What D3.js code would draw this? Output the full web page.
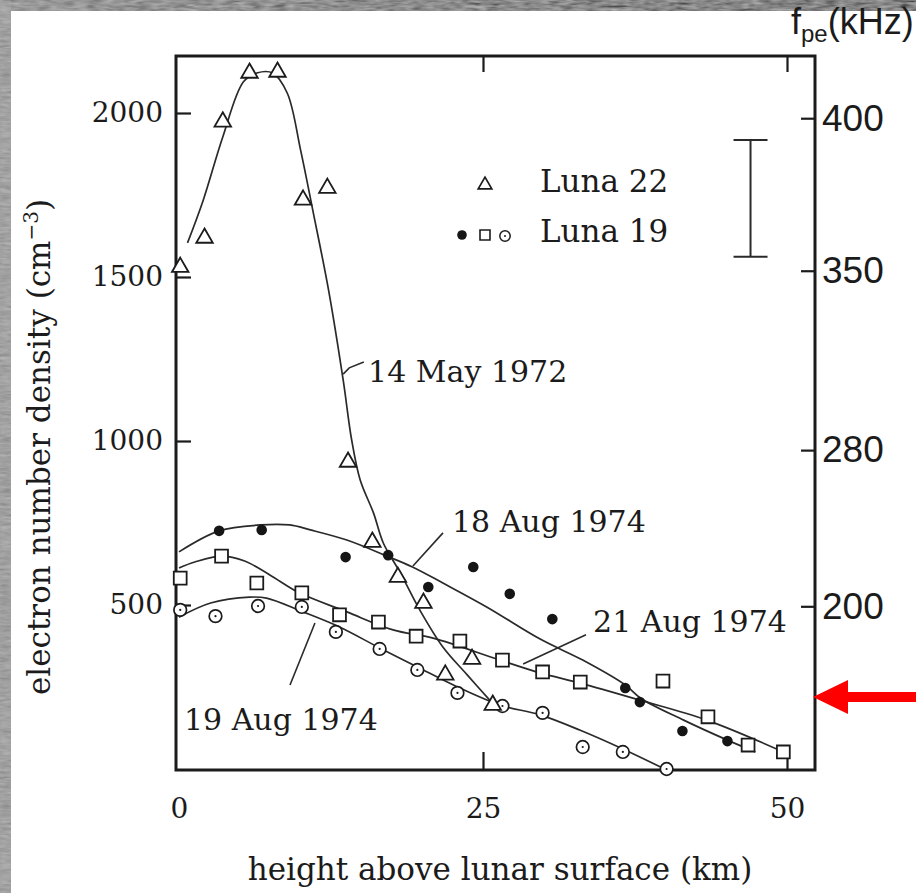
<!DOCTYPE html>
<html>
<head>
<meta charset="utf-8">
<script src="https://cdn.jsdelivr.net/npm/d3@7"></script>
<style>
  body { margin: 0; background: #fff; }
  svg { display: block; }
</style>
</head>
<body>
<svg id="chart" width="916" height="893"></svg>
<script>
// Electron number density above the lunar surface, Luna 22 and Luna 19 radio occultations.
// Each point is [height above surface (km), density (cm^-3)].

// Luna 22 – 14 May 1972 (triangles) and its fitted profile
const may14Points = [[0.1,1530],[2.1,1619],[3.6,1973],[5.8,2122],[8.1,2125],[10.2,1735],[12.2,1771],
  [13.9,936],[15.9,692],[18.0,585],[20.1,506],[21.9,287],[24.1,335],[25.8,195]];
const may14Fit = [[0.7,1604],[2.0,1735],[3.6,1927],[5.3,2095],[6.4,2122],[7.7,2122],[8.9,2061],
  [10.0,1887],[11.0,1704],[12.3,1460],[13.5,1186],[14.2,1003],[14.9,881],[16.0,780],[16.8,689],
  [18.2,598],[19.8,485],[21.7,372],[23.7,287],[25.7,204]];

// Luna 19 – 18 Aug 1974 (filled dots)
const aug18Points = [[3.3,726],[6.8,729],[13.7,646],[17.2,652],[20.5,555],[24.2,616],[27.2,534],
  [30.7,457],[36.7,247],[37.9,204],[41.4,116],[45.1,85]];
const aug18Fit = [[0,662],[3.3,726],[6.7,744],[9.1,744],[10.8,729],[13.8,698],[17.1,649],[19.2,616],
  [21.7,567],[25.3,494],[29.7,396],[33.2,332],[36.7,256],[38.0,215],[41.5,149],[45.1,88],[47.4,52]];

// Luna 19 – 21 Aug 1974 (open squares)
const aug21Points = [[0.1,582],[3.5,649],[6.4,567],[10.1,537],[13.2,470],[16.4,448],[19.5,405],
  [23.1,390],[26.6,332],[29.9,296],[33.0,265],[39.8,268],[43.5,159],[46.8,73],[49.7,52]];
const aug21Fit = [[0,613],[1.3,631],[3.5,649],[5.4,634],[7.5,591],[9.9,537],[13.8,479],[17.6,424],
  [20.9,399],[26.4,332],[29.7,293],[33.0,262],[37.9,210],[43.4,149],[49.7,52]];

// Luna 19 – 19 Aug 1974 (dotted circles)
const aug19Points = [[0.1,485],[3.0,466],[6.5,497],[10.1,494],[12.9,418],[16.5,366],[19.6,302],
  [22.9,232],[26.6,192],[29.9,171],[33.2,67],[36.5,52],[40.1,0]];
const aug19Fit = [[0,463],[2.6,506],[5.8,524],[7.2,521],[10.2,479],[13.2,433],[16.5,369],[19.6,311],
  [22.9,250],[26.4,195],[29.7,165],[33.0,118],[36.5,61],[39.6,6]];

// Representative measurement uncertainty
const errorBar = { x: 47, n: 1740, half: 178 };

// Axis ticks
const xTicks = [0, 25, 50];
const yTicks = [500, 1000, 1500, 2000];
const fpeTicks = [200, 280, 350, 400];   // plasma frequency, kHz
const fpeMarkKHz = 133;                  // highlighted plasma frequency
const fpeConst = 8.98;                   // f_pe[kHz] = 8.98 * sqrt(n[cm^-3])

// Date annotations: leader polyline and text anchor in data units
const dateLabels = [
  { text: "14 May 1972", leader: [[13.5,1204],[14.0,1223],[15.2,1241]], at: [15.55,1180] },
  { text: "18 Aug 1974", leader: [[19.24,619],[21.71,720]],            at: [22.45,723] },
  { text: "21 Aug 1974", leader: [[28.3,320],[33.47,409]],              at: [34.05,418] },
  { text: "19 Aug 1974", leader: [[11.18,445],[9.13,256]],              at: [0.41,119] }
];

const legendRows = ["Luna 22", "Luna 19"];

// ---------------------------------------------------------------------------
const svg = d3.select("#chart");
const W = 916, H = 893;
const frame = { left: 176, right: 815, top: 56, bottom: 770 };
const serif = "'DejaVu Serif', serif";
const sans = "'Liberation Sans', Arial, sans-serif";
const ink = "#1b1b1b";

const x = d3.scaleLinear().domain([0, 50]).range([179, 787]);
const y = d3.scaleLinear().domain([0, 2000]).range([769, 113]);
const fMax = 400;
const yF = d3.scalePow().exponent(2).domain([0, fMax])
  .range([y(0), y(Math.pow(fMax / fpeConst, 2))]);

// scanned page edges
const defs = svg.append("defs");
const grain = defs.append("filter").attr("id", "grain").attr("x", 0).attr("y", 0)
  .attr("width", "100%").attr("height", "100%");
grain.append("feTurbulence").attr("type", "fractalNoise").attr("baseFrequency", "0.08 0.35")
  .attr("numOctaves", 2).attr("seed", 3).attr("result", "noise");
grain.append("feColorMatrix").attr("in", "noise").attr("type", "matrix")
  .attr("values", "0 0 0 0 0.5  0 0 0 0 0.5  0 0 0 0 0.5  0.6 0.6 0.6 0 -0.5").attr("result", "tone");
grain.append("feComposite").attr("in", "tone").attr("in2", "SourceGraphic").attr("operator", "in").attr("result", "t2");
grain.append("feMerge").selectAll("feMergeNode").data(["SourceGraphic", "t2"]).join("feMergeNode").attr("in", d => d);

const topGrad = defs.append("linearGradient").attr("id", "topband").attr("x1", 0).attr("x2", 1);
topGrad.append("stop").attr("offset", 0).attr("stop-color", "#7a7a7a");
topGrad.append("stop").attr("offset", 0.5).attr("stop-color", "#5a5a5a");
topGrad.append("stop").attr("offset", 1).attr("stop-color", "#3c3c3c");

svg.append("rect").attr("width", W).attr("height", H).attr("fill", "#fff");
svg.append("rect").attr("x", 0).attr("y", 0).attr("width", W).attr("height", 11)
  .attr("fill", "url(#topband)").attr("filter", "url(#grain)");
svg.append("rect").attr("x", 0).attr("y", 0).attr("width", 11).attr("height", H)
  .attr("fill", "#8c8c8c").attr("filter", "url(#grain)");

// plot frame
svg.append("rect")
  .attr("x", frame.left).attr("y", frame.top)
  .attr("width", frame.right - frame.left).attr("height", frame.bottom - frame.top)
  .attr("fill", "none").attr("stroke", ink).attr("stroke-width", 3);

// axes
function styleAxis(g, fontFamily, fontSize) {
  g.select(".domain").remove();
  g.selectAll(".tick line").attr("stroke", ink).attr("stroke-width", 2.2);
  g.selectAll(".tick text").attr("fill", ink).style("font-family", fontFamily).style("font-size", fontSize + "px");
}

svg.append("g").attr("transform", `translate(${frame.left},0)`)
  .call(d3.axisLeft(y).tickValues(yTicks).tickSize(-15).tickPadding(13).tickFormat(d3.format("d")))
  .call(g => styleAxis(g, serif, 28));

svg.append("g").attr("transform", `translate(0,${frame.bottom})`)
  .call(d3.axisBottom(x).tickValues(xTicks).tickSize(-18).tickPadding(28).tickFormat(d3.format("d")))
  .call(g => styleAxis(g, serif, 28))
  .call(g => g.selectAll(".tick line").filter(d => d === 0).remove());

svg.append("g").attr("transform", `translate(0,${frame.top})`)
  .call(d3.axisTop(x).tickValues(xTicks.filter(d => d > 0)).tickSize(-16).tickFormat(""))
  .call(g => styleAxis(g, serif, 28));

svg.append("g").attr("transform", `translate(${frame.right},0)`)
  .call(d3.axisRight(yF).tickValues(fpeTicks).tickSize(-14).tickPadding(7).tickFormat(d3.format("d")))
  .call(g => styleAxis(g, sans, 37));

// axis titles
svg.append("text")
  .attr("x", 500).attr("y", 880).attr("text-anchor", "middle")
  .style("font-family", serif).style("font-size", "31px").attr("fill", ink)
  .text("height above lunar surface (km)");

const yTitle = svg.append("text")
  .attr("transform", "translate(50,447) rotate(-90)").attr("text-anchor", "middle")
  .style("font-family", serif).style("font-size", "31px").attr("fill", ink);
yTitle.append("tspan").text("electron number density (cm");
yTitle.append("tspan").attr("dy", -12).style("font-size", "20px").text("\u22123");
yTitle.append("tspan").attr("dy", 12).text(")");

const fTitle = svg.append("text").attr("x", 791).attr("y", 34)
  .style("font-family", sans).style("font-size", "36px").attr("fill", ink);
fTitle.append("tspan").text("f");
fTitle.append("tspan").attr("dy", 8).style("font-size", "24px").text("pe");
fTitle.append("tspan").attr("dy", -8).text("(kHz)");

// fitted profiles
const line = d3.line().x(d => x(d[0])).y(d => y(d[1])).curve(d3.curveCatmullRom.alpha(0.5));
const fits = [may14Fit, aug18Fit, aug21Fit, aug19Fit];
svg.append("g").selectAll("path").data(fits).join("path")
  .attr("d", line).attr("fill", "none").attr("stroke", "#2a2a2a").attr("stroke-width", 1.7);

// markers
const sym = {
  tri: d3.symbol().type(d3.symbolTriangle).size(118)(),
  sq: d3.symbol().type(d3.symbolSquare).size(165)()
};
function triangles(g, data) {
  g.selectAll("path").data(data).join("path")
    .attr("transform", d => `translate(${x(d[0])},${y(d[1])})`)
    .attr("d", sym.tri).attr("fill", "#fff").attr("stroke", ink).attr("stroke-width", 1.8);
}
function squares(g, data) {
  g.selectAll("path").data(data).join("path")
    .attr("transform", d => `translate(${x(d[0])},${y(d[1])})`)
    .attr("d", sym.sq).attr("fill", "#fff").attr("stroke", ink).attr("stroke-width", 1.8);
}
function dots(g, data) {
  g.selectAll("circle").data(data).join("circle")
    .attr("cx", d => x(d[0])).attr("cy", d => y(d[1])).attr("r", 5.3).attr("fill", "#151515");
}
function rings(g, data) {
  const s = g.selectAll("g").data(data).join("g")
    .attr("transform", d => `translate(${x(d[0])},${y(d[1])})`);
  s.append("circle").attr("r", 6.3).attr("fill", "#fff").attr("stroke", ink).attr("stroke-width", 1.7);
  s.append("circle").attr("r", 1.1).attr("fill", ink);
}
svg.append("g").call(g => rings(g, aug19Points));
svg.append("g").call(g => squares(g, aug21Points));
svg.append("g").call(g => dots(g, aug18Points));
svg.append("g").call(g => triangles(g, may14Points));

// error bar
const eb = svg.append("g").attr("stroke", "#2a2a2a").attr("stroke-width", 2);
eb.append("line").attr("x1", x(errorBar.x)).attr("x2", x(errorBar.x))
  .attr("y1", y(errorBar.n + errorBar.half)).attr("y2", y(errorBar.n - errorBar.half));
[errorBar.n + errorBar.half, errorBar.n - errorBar.half].forEach(v => {
  eb.append("line").attr("x1", x(errorBar.x) - 17).attr("x2", x(errorBar.x) + 17)
    .attr("y1", y(v)).attr("y2", y(v));
});

// date annotations
const ann = svg.append("g");
dateLabels.forEach(a => {
  ann.append("path")
    .attr("d", d3.line().x(d => x(d[0])).y(d => y(d[1]))(a.leader))
    .attr("fill", "none").attr("stroke", "#2a2a2a").attr("stroke-width", 1.6);
  ann.append("text").attr("x", x(a.at[0])).attr("y", y(a.at[1]))
    .style("font-family", serif).style("font-size", "30px").attr("fill", ink).text(a.text);
});

// legend
const lg = svg.append("g");
lg.append("path").attr("transform", "translate(485,185)").attr("d", d3.symbol().type(d3.symbolTriangle).size(80)())
  .attr("fill", "#fff").attr("stroke", ink).attr("stroke-width", 1.7);
lg.append("circle").attr("cx", 462).attr("cy", 235).attr("r", 4.8).attr("fill", "#151515");
lg.append("path").attr("transform", "translate(485,235)").attr("d", d3.symbol().type(d3.symbolSquare).size(100)())
  .attr("fill", "#fff").attr("stroke", ink).attr("stroke-width", 1.6);
lg.append("circle").attr("cx", 505).attr("cy", 236).attr("r", 5.2).attr("fill", "#fff").attr("stroke", ink).attr("stroke-width", 1.5);
lg.append("circle").attr("cx", 505).attr("cy", 236).attr("r", 1).attr("fill", ink);
lg.selectAll("text").data(legendRows).join("text")
  .attr("x", 540).attr("y", (d, i) => 192 + i * 50)
  .style("font-family", serif).style("font-size", "31px").attr("fill", ink).text(d => d);

// arrow pointing at the highlighted plasma frequency on the right axis
const ay = yF(fpeMarkKHz);
const tip = frame.right - 2;
svg.append("path")
  .attr("d", `M${tip},${ay} L${tip + 35},${ay - 17} L${tip + 35},${ay - 5} L${W},${ay - 5} L${W},${ay + 5} L${tip + 35},${ay + 5} L${tip + 35},${ay + 17} Z`)
  .attr("fill", "#ff0000");
</script>
</body>
</html>
